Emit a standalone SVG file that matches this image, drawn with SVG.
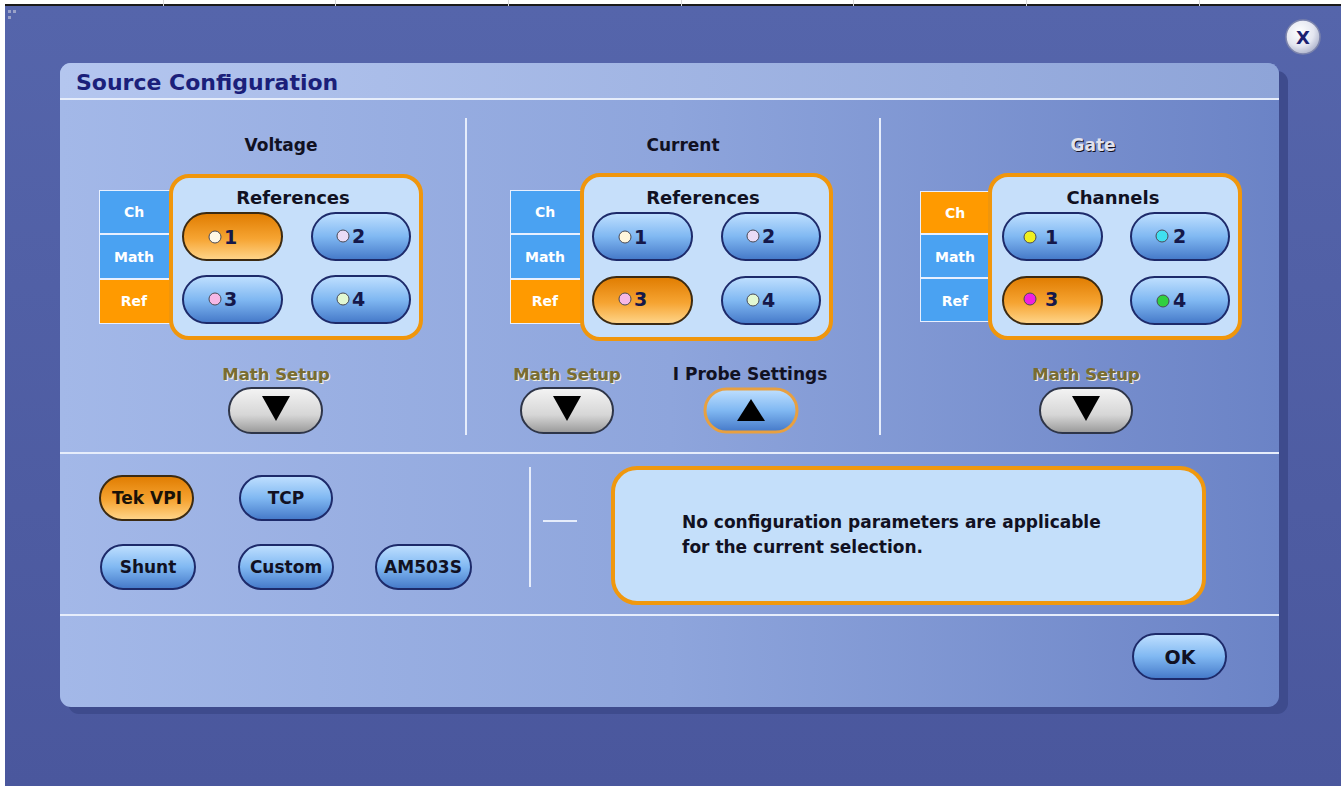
<svg xmlns="http://www.w3.org/2000/svg" width="1341" height="788" viewBox="0 0 1341 788">
<style>
.t{font-family:"DejaVu Sans","Liberation Sans",sans-serif;font-weight:bold}
.pb{fill:url(#gBlue);stroke:#1d2a6a;stroke-width:2}
.po{fill:url(#gOrange);stroke:#3b2a12;stroke-width:2}
.pg{fill:url(#gGray);stroke:#2e3548;stroke-width:2}
.tb{fill:#4aa2f2}
.to{fill:#ff9a00}
.tt{fill:#ffffff;font-size:14px;text-anchor:middle}
.box{fill:#c6dffa;stroke:#f0960c;stroke-width:4}
.sep{stroke:#e6edfb;stroke-width:2;fill:none}
.dot{stroke:#4a4a55;stroke-width:1}
.num{fill:#15184a;font-size:19px}
.hd{fill:#111122;font-size:17px;text-anchor:middle}
.bh{fill:#111122;font-size:18px;text-anchor:middle}
.lbl{fill:#111122;font-size:17px;text-anchor:middle}
.dis{fill:#7a6c30;font-size:16.5px;text-anchor:middle}
.dish{fill:#f4f2e4;font-size:16.5px;text-anchor:middle}
</style>
<defs>
<linearGradient id="gBlue" x1="0" y1="0" x2="0" y2="1">
<stop offset="0" stop-color="#c0e0ff"/><stop offset="0.5" stop-color="#80b8f2"/><stop offset="1" stop-color="#4478c8"/>
</linearGradient>
<linearGradient id="gOrange" x1="0" y1="0" x2="0" y2="1">
<stop offset="0" stop-color="#e07c00"/><stop offset="0.55" stop-color="#f6a432"/><stop offset="1" stop-color="#ffd68c"/>
</linearGradient>
<linearGradient id="gGray" x1="0" y1="0" x2="0" y2="1">
<stop offset="0" stop-color="#f4f4f4"/><stop offset="0.6" stop-color="#d6d6d6"/><stop offset="1" stop-color="#989898"/>
</linearGradient>
<linearGradient id="gBg" x1="0" y1="0" x2="0" y2="1">
<stop offset="0" stop-color="#5565ab"/><stop offset="1" stop-color="#4a579d"/>
</linearGradient>
<linearGradient id="gPanel" x1="0" y1="0" x2="1" y2="0">
<stop offset="0" stop-color="#a3b8e8"/><stop offset="0.5" stop-color="#8ea5dc"/><stop offset="1" stop-color="#6b83c6"/>
</linearGradient>
<linearGradient id="gTitle" x1="0" y1="0" x2="1" y2="0">
<stop offset="0" stop-color="#b4c6ef"/><stop offset="1" stop-color="#8ea4d8"/>
</linearGradient>
<radialGradient id="gClose" cx="0.4" cy="0.35" r="0.7">
<stop offset="0" stop-color="#ffffff"/><stop offset="0.6" stop-color="#e4e6f0"/><stop offset="1" stop-color="#a8aec8"/>
</radialGradient>
</defs>

<g id="background">
<rect x="0" y="0" width="1341" height="788" fill="#ffffff"/>
<rect x="5" y="6" width="1336" height="780" fill="url(#gBg)"/>
<rect x="5" y="4" width="1336" height="2" fill="#1a1a1a"/>
<g fill="#d8d8d8">
<rect x="163" y="0" width="1" height="6"/><rect x="335" y="0" width="1" height="6"/><rect x="508" y="0" width="1" height="6"/><rect x="681" y="0" width="1" height="6"/><rect x="853" y="0" width="1" height="6"/><rect x="1026" y="0" width="1" height="6"/><rect x="1199" y="0" width="1" height="6"/>
</g>
<g fill="#9aa2c8"><rect x="8" y="10" width="3" height="3"/><rect x="13" y="10" width="3" height="3"/><rect x="8" y="16" width="3" height="3"/></g>
</g>

<g id="panel">
<rect x="68" y="71" width="1220" height="643" rx="11" fill="#3e4b8d"/>
<rect x="60" y="63" width="1219" height="644" rx="11" fill="url(#gPanel)"/>
<path d="M60,99 V74 a11,11 0 0 1 11,-11 H1268 a11,11 0 0 1 11,11 V99 Z" fill="url(#gTitle)"/>
<text class="t" x="76" y="90" font-size="22" fill="#1b1f7a">Source Configuration</text>
</g>

<g id="separators">
<line class="sep" x1="60" y1="99" x2="1279" y2="99"/>
<line class="sep" x1="466" y1="118" x2="466" y2="435"/>
<line class="sep" x1="880" y1="118" x2="880" y2="435"/>
<line class="sep" x1="60" y1="453" x2="1279" y2="453"/>
<line class="sep" x1="60" y1="615" x2="1279" y2="615"/>
<line class="sep" x1="530" y1="467" x2="530" y2="587"/>
<line class="sep" x1="543" y1="521" x2="577" y2="521"/>
</g>

<g id="voltage">
<text class="t hd" x="281" y="151">Voltage</text>
<rect x="99" y="190" width="75" height="134" fill="#e8f0ff"/>
<rect class="tb" x="100" y="191" width="74" height="42"/>
<rect class="tb" x="100" y="235" width="74" height="43"/>
<rect class="to" x="100" y="280" width="74" height="43"/>
<text class="t tt" x="134" y="217">Ch</text>
<text class="t tt" x="134" y="262">Math</text>
<text class="t tt" x="134" y="306">Ref</text>
<rect class="box" x="171" y="176" width="250" height="162" rx="18"/>
<text class="t bh" x="293" y="204">References</text>
<rect class="po" x="183" y="213" width="99" height="47" rx="23.5"/>
<circle class="dot" cx="215" cy="237" r="6" fill="#fff8e6"/><text class="t num" x="224" y="244">1</text>
<rect class="pb" x="312" y="213" width="98" height="47" rx="23.5"/>
<circle class="dot" cx="343" cy="236" r="6" fill="#eadcf6"/><text class="t num" x="352" y="243">2</text>
<rect class="pb" x="183" y="276" width="99" height="47" rx="23.5"/>
<circle class="dot" cx="215" cy="299" r="6" fill="#f6b8e6"/><text class="t num" x="224" y="306">3</text>
<rect class="pb" x="312" y="276" width="98" height="47" rx="23.5"/>
<circle class="dot" cx="343" cy="299" r="6" fill="#e2f8d2"/><text class="t num" x="352" y="306">4</text>
<text class="t dish" x="277" y="381">Math Setup</text>
<text class="t dis" x="276" y="380">Math Setup</text>
<rect class="pg" x="229" y="388" width="93" height="45" rx="22.5"/>
<polygon points="262,396 290,396 276,421" fill="#000"/>
</g>

<g id="current">
<text class="t hd" x="683" y="151">Current</text>
<rect x="510" y="190" width="76" height="134" fill="#e8f0ff"/>
<rect class="tb" x="511" y="191" width="75" height="42"/>
<rect class="tb" x="511" y="235" width="75" height="43"/>
<rect class="to" x="511" y="280" width="75" height="43"/>
<text class="t tt" x="545" y="217">Ch</text>
<text class="t tt" x="545" y="262">Math</text>
<text class="t tt" x="545" y="306">Ref</text>
<rect class="box" x="582" y="175" width="249" height="164" rx="18"/>
<text class="t bh" x="703" y="204">References</text>
<rect class="pb" x="593" y="213" width="99" height="47" rx="23.5"/>
<circle class="dot" cx="625" cy="237" r="6" fill="#fff6dc"/><text class="t num" x="634" y="244">1</text>
<rect class="pb" x="722" y="213" width="98" height="47" rx="23.5"/>
<circle class="dot" cx="753" cy="236" r="6" fill="#eadcf6"/><text class="t num" x="762" y="243">2</text>
<rect class="po" x="593" y="277" width="99" height="47" rx="23.5"/>
<circle class="dot" cx="625" cy="299" r="6" fill="#f6b8e6"/><text class="t num" x="634" y="306">3</text>
<rect class="pb" x="722" y="277" width="98" height="47" rx="23.5"/>
<circle class="dot" cx="753" cy="300" r="6" fill="#e2f8d2"/><text class="t num" x="762" y="307">4</text>
<text class="t dish" x="568" y="381">Math Setup</text>
<text class="t dis" x="567" y="380">Math Setup</text>
<rect class="pg" x="521" y="388" width="92" height="45" rx="22.5"/>
<polygon points="553,396 581,396 567,421" fill="#000"/>
<text class="t lbl" x="750" y="380">I Probe Settings</text>
<rect x="705" y="389" width="92" height="43" rx="21.5" fill="url(#gBlue)" stroke="#e8a040" stroke-width="3"/>
<polygon points="737,421 765,421 751,399" fill="#000"/>
</g>

<g id="gate">
<text class="t hd" x="1094" y="152" fill="#3c3c5c">Gate</text>
<text class="t hd" x="1093" y="151" style="fill:#e2e2ec">Gate</text>
<rect x="920" y="191" width="74" height="131" fill="#e8f0ff"/>
<rect class="to" x="921" y="192" width="73" height="41"/>
<rect class="tb" x="921" y="235" width="73" height="42"/>
<rect class="tb" x="921" y="279" width="73" height="42"/>
<text class="t tt" x="955" y="218">Ch</text>
<text class="t tt" x="955" y="262">Math</text>
<text class="t tt" x="955" y="306">Ref</text>
<rect class="box" x="990" y="175" width="250" height="163" rx="18"/>
<text class="t bh" x="1113" y="204">Channels</text>
<rect class="pb" x="1003" y="213" width="99" height="47" rx="23.5"/>
<circle class="dot" cx="1030" cy="237" r="6" fill="#f0f020"/><text class="t num" x="1045" y="244">1</text>
<rect class="pb" x="1131" y="213" width="98" height="47" rx="23.5"/>
<circle class="dot" cx="1162" cy="236" r="6" fill="#40e0f0"/><text class="t num" x="1173" y="243">2</text>
<rect class="po" x="1003" y="277" width="99" height="47" rx="23.5"/>
<circle class="dot" cx="1030" cy="299" r="6" fill="#f020e0"/><text class="t num" x="1045" y="306">3</text>
<rect class="pb" x="1131" y="277" width="98" height="47" rx="23.5"/>
<circle class="dot" cx="1163" cy="301" r="6" fill="#30d040"/><text class="t num" x="1173" y="307">4</text>
<text class="t dish" x="1087" y="381">Math Setup</text>
<text class="t dis" x="1086" y="380">Math Setup</text>
<rect class="pg" x="1040" y="388" width="92" height="45" rx="22.5"/>
<polygon points="1072,396 1100,396 1086,421" fill="#000"/>
</g>

<g id="probe-types">
<rect class="po" x="100" y="476" width="93" height="44" rx="22"/>
<text class="t lbl" x="147" y="504" style="fill:#1a1208">Tek VPI</text>
<rect class="pb" x="240" y="476" width="92" height="44" rx="22"/>
<text class="t lbl" x="286" y="504">TCP</text>
<rect class="pb" x="101" y="545" width="94" height="44" rx="22"/>
<text class="t lbl" x="148" y="573">Shunt</text>
<rect class="pb" x="239" y="545" width="94" height="44" rx="22"/>
<text class="t lbl" x="286" y="573">Custom</text>
<rect class="pb" x="376" y="545" width="95" height="44" rx="22"/>
<text class="t lbl" x="423" y="573">AM503S</text>
</g>

<g id="message">
<rect x="613" y="468" width="591" height="135" rx="24" fill="#c4dffa" stroke="#f0980e" stroke-width="4"/>
<text class="t" x="682" y="528" font-size="17" fill="#111122">No configuration parameters are applicable</text>
<text class="t" x="682" y="553" font-size="17" fill="#111122">for the current selection.</text>
</g>

<g id="ok">
<rect class="pb" x="1133" y="634" width="93" height="45" rx="22.5"/>
<text class="t" x="1180" y="664" font-size="19" text-anchor="middle" fill="#111122">OK</text>
</g>

<g id="close">
<circle cx="1303" cy="37" r="17" fill="url(#gClose)" stroke="#7c84ac" stroke-width="1.5"/>
<text class="t" x="1303" y="44" font-size="18" text-anchor="middle" fill="#1a2070">X</text>
</g>
</svg>
